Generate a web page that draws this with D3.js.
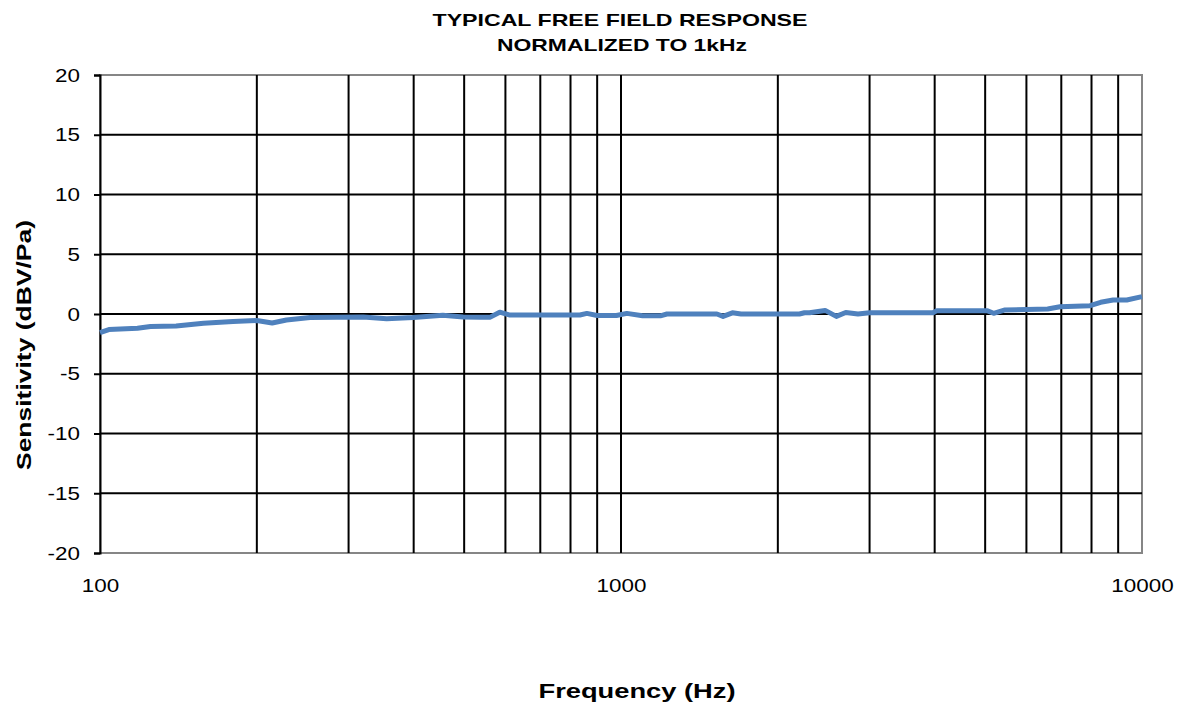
<!DOCTYPE html>
<html>
<head>
<meta charset="utf-8">
<script src="https://cdn.jsdelivr.net/npm/d3@7"></script>
<style>
  body { margin: 0; background: #fff; }
  text { font-family: "Liberation Sans", Arial, sans-serif; }
</style>
</head>
<body>
<div id="chart"></div>
<script>
// frequency (Hz) and sensitivity (dB)
var freq = [100, 104, 118, 125, 140, 158, 180, 200, 214, 228, 253, 320, 355, 399, 455, 498, 536, 560,
            585, 610, 700, 834, 860, 900, 980, 1026, 1100, 1190, 1225, 1528, 1570, 1636, 1700, 2200,
            2250, 2300, 2465, 2590, 2700, 2850, 3000, 3440, 3970, 4040, 5040, 5190, 5440, 6590, 6960,
            7950, 8330, 8800, 9350, 10000];
var sens = [-1.55, -1.3, -1.2, -1.05, -1.0, -0.78, -0.62, -0.55, -0.75, -0.5, -0.3, -0.25, -0.4, -0.3,
            -0.1, -0.25, -0.28, -0.28, 0.15, -0.08, -0.08, -0.08, 0.05, -0.12, -0.13, 0.05, -0.15, -0.15,
            0, 0, -0.2, 0.1, 0, 0, 0.1, 0.1, 0.3, -0.2, 0.13, 0, 0.1, 0.1, 0.1, 0.28, 0.28, 0.06, 0.33,
            0.42, 0.61, 0.7, 0.98, 1.17, 1.17, 1.45];

var yTicks = [-20, -15, -10, -5, 0, 5, 10, 15, 20];
var xLabels = [100, 1000, 10000];
var xGrid = [200, 300, 400, 500, 600, 700, 800, 900, 1000, 2000, 3000, 4000, 5000, 6000, 7000, 8000, 9000];

var margin = {top: 75, right: 37, bottom: 151, left: 100},
    width = 1179 - margin.left - margin.right,
    height = 704 - margin.top - margin.bottom;

var svg = d3.select("#chart")
  .append("svg")
    .attr("width", 1179)
    .attr("height", 704);

var g = svg.append("g")
    .attr("transform", "translate(" + margin.left + "," + margin.top + ")");

var x = d3.scaleLog()
  .domain([100, 10000])
  .range([0, width]);

var y = d3.scaleLinear()
  .domain([-20, 20])
  .range([height, 0]);

// the original text is a bit wide, stretch it horizontally
function stretch(sel, k) {
  sel.each(function() {
    var w = this.getComputedTextLength();
    d3.select(this).attr("textLength", w * k).attr("lengthAdjust", "spacingAndGlyphs");
  });
}

// plot area border
g.append("rect")
  .attr("x", 0).attr("y", 0)
  .attr("width", width).attr("height", height)
  .attr("fill", "none")
  .attr("stroke", "#868686")
  .attr("stroke-width", 2);

// horizontal grid
g.selectAll(".hgrid")
  .data(yTicks.filter(function(d){ return d > -20 && d < 20; }))
  .enter().append("line")
  .attr("x1", 0).attr("x2", width)
  .attr("y1", function(d){ return y(d); })
  .attr("y2", function(d){ return y(d); })
  .attr("stroke", "#000")
  .attr("stroke-width", 2);

// vertical grid
g.selectAll(".vgrid")
  .data(xGrid)
  .enter().append("line")
  .attr("x1", function(d){ return x(d); })
  .attr("x2", function(d){ return x(d); })
  .attr("y1", 0).attr("y2", height)
  .attr("stroke", "#000")
  .attr("stroke-width", 2);

// left axis
var yAxis = g.append("g")
  .call(d3.axisLeft(y).tickValues(yTicks).tickSize(6).tickPadding(14));
yAxis.select(".domain").attr("stroke", "#000").attr("stroke-width", 2);
yAxis.selectAll(".tick line").attr("stroke", "#000").attr("stroke-width", 2);
yAxis.selectAll("text")
  .style("font-size", "19px")
  .attr("fill", "#000")
  .text(function(d){ return d; })
  .call(stretch, 1.18);

// bottom labels
var xAxis = g.append("g")
  .attr("transform", "translate(0," + height + ")")
  .call(d3.axisBottom(x).tickValues(xLabels).tickSize(0).tickPadding(26)
    .tickFormat(d3.format("d")));
xAxis.select(".domain").remove();
xAxis.selectAll("text")
  .style("font-size", "19px")
  .attr("fill", "#000")
  .call(stretch, 1.18);

// response curve
var line = d3.line()
  .x(function(d, i){ return x(freq[i]); })
  .y(function(d){ return y(d); });

g.append("path")
  .datum(sens)
  .attr("d", line)
  .attr("fill", "none")
  .attr("stroke", "#4f81bd")
  .attr("stroke-width", 5)
  .attr("stroke-linejoin", "round");

// titles
svg.append("text")
  .attr("x", 620).attr("y", 26)
  .attr("text-anchor", "middle")
  .style("font-size", "17px").style("font-weight", "bold")
  .attr("textLength", 375).attr("lengthAdjust", "spacingAndGlyphs")
  .text("TYPICAL FREE FIELD RESPONSE");
svg.append("text")
  .attr("x", 622).attr("y", 51)
  .attr("text-anchor", "middle")
  .style("font-size", "17px").style("font-weight", "bold")
  .attr("textLength", 250).attr("lengthAdjust", "spacingAndGlyphs")
  .text("NORMALIZED TO 1kHz");

svg.append("text")
  .attr("transform", "translate(31,345) rotate(-90)")
  .attr("text-anchor", "middle")
  .style("font-size", "21px").style("font-weight", "bold")
  .attr("textLength", 250).attr("lengthAdjust", "spacingAndGlyphs")
  .text("Sensitivity (dBV/Pa)");

svg.append("text")
  .attr("x", 637).attr("y", 698)
  .attr("text-anchor", "middle")
  .style("font-size", "21px").style("font-weight", "bold")
  .attr("textLength", 197).attr("lengthAdjust", "spacingAndGlyphs")
  .text("Frequency (Hz)");
</script>
</body>
</html>
